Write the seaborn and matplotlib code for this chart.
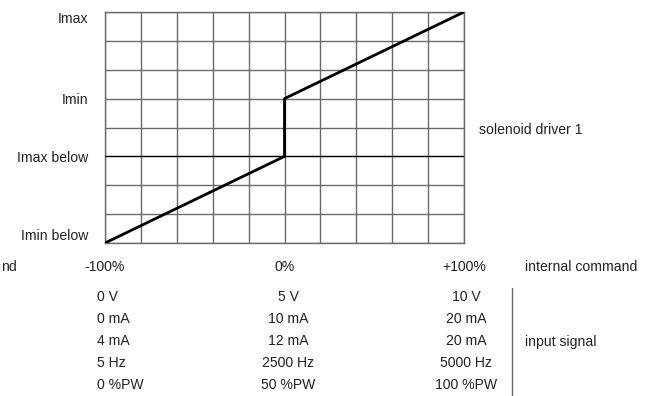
import matplotlib
matplotlib.use('Agg')
import matplotlib.pyplot as plt
import seaborn as sns
import pandas as pd

# Характеристика: команда (%) -> ток (уровни сетки 0..8)
command = [-100, 0, 0, 100]
current = [0, 3, 5, 8]

level_pos = [0, 3, 5, 8]
level_names = ['Imin below', 'Imax below', 'Imin', 'Imax']

cmd_ticks = [-100, 0, 100]
cmd_labels = ['-100%', '0%', '+100%']

# Таблица входного сигнала: три столбца (-100%, 0%, +100%)
sig_low = ['0 V', '0 mA', '4 mA', '5 Hz', '0 %PW']
sig_mid = ['5 V', '10 mA', '12 mA', '2500 Hz', '50 %PW']
sig_high = ['10 V', '20 mA', '20 mA', '5000 Hz', '100 %PW']

sns.set_style('white')
plt.rcParams['font.family'] = ['Liberation Sans', 'DejaVu Sans']
FS = 10.1
TXT = '#222222'

W, H = 645, 396
fig = plt.figure(figsize=(W / 100, H / 100), dpi=100)
ax = fig.add_axes([105 / W, 1 - 243 / H, (464 - 105) / W, (243 - 12) / H])

df = pd.DataFrame({'command': command, 'current': current})
sns.lineplot(data=df, x='command', y='current', sort=False, estimator=None,
             color='black', lw=2.0, ax=ax, zorder=5)

ax.set_xlim(-100, 100)
ax.set_ylim(0, 8)
ax.set_xticks(range(-100, 101, 20), minor=True)
ax.set_xticks(cmd_ticks)
ax.set_xticklabels(cmd_labels, fontsize=FS, color=TXT)
ax.set_yticks(range(0, 9), minor=True)
ax.set_yticks(level_pos)
ax.set_yticklabels(level_names, fontsize=FS, color=TXT)
ax.tick_params(which='both', length=0)
ax.tick_params(axis='x', pad=12)
ax.tick_params(axis='y', pad=12)
for lbl in ax.get_yticklabels():
    if lbl.get_text() == 'Imin below':
        lbl.set_va('bottom')
    elif lbl.get_text() == 'Imax':
        lbl.set_va('top')

ax.grid(True, which='both', color='#6a6a6a', lw=1.0)
ax.axhline(3, color='black', lw=0.9, zorder=4)
for s in ax.spines.values():
    s.set_color('#6a6a6a')
    s.set_linewidth(1.0)
ax.set_xlabel('')
ax.set_ylabel('')

def px(x, y):
    return x / W, 1 - y / H

fig.text(*px(479, 130), 'solenoid driver 1', fontsize=FS, va='center', color=TXT)
fig.text(*px(525, 267), 'internal command', fontsize=FS, va='center', color=TXT)
fig.text(*px(1, 267), 'nd', fontsize=FS, va='center', ha='left', color=TXT)
fig.text(*px(525, 342), 'input signal', fontsize=FS, va='center', color=TXT)

rows_y = [297, 319, 341, 363, 385]
for y, a, b, c in zip(rows_y, sig_low, sig_mid, sig_high):
    fig.text(*px(97, y), a, fontsize=FS, va='center', ha='left', color=TXT)
    fig.text(*px(288, y), b, fontsize=FS, va='center', ha='center', color=TXT)
    fig.text(*px(466, y), c, fontsize=FS, va='center', ha='center', color=TXT)

fig.add_artist(plt.Line2D([512 / W, 512 / W], [1 - 288 / H, 1 - 396 / H],
                          color='#6a6a6a', lw=1.0))

fig.savefig('out.png', dpi=100)
